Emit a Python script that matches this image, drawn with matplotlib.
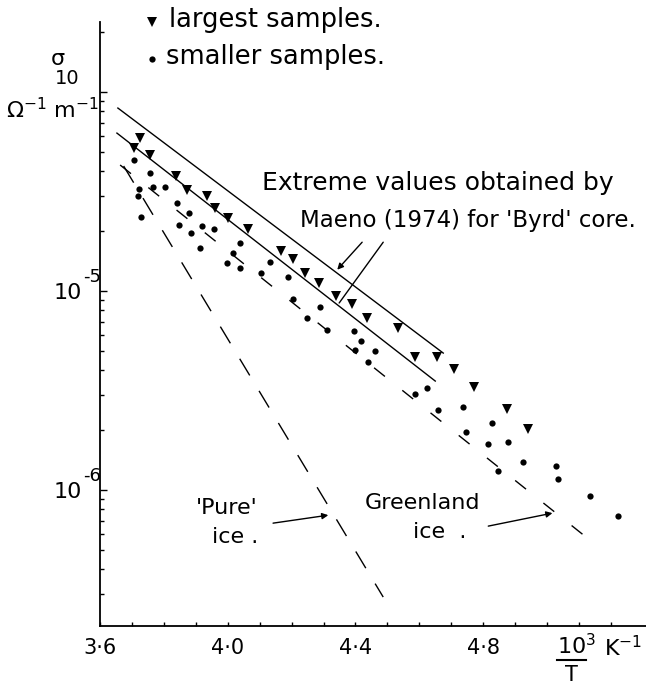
import numpy as np
import matplotlib
matplotlib.use("Agg")
import matplotlib.pyplot as plt
import matplotlib.transforms as mtransforms
from matplotlib.ticker import FixedLocator, LogLocator, NullFormatter
from matplotlib.lines import Line2D

plt.rcParams['font.family'] = ['DejaVu Sans']
plt.rcParams['mathtext.default'] = 'regular'

# largest samples (triangles)
tri_x = [3.725, 3.707, 3.757, 3.838, 3.873, 3.935, 3.960, 4.001, 4.064, 4.167, 4.205, 4.243,
         4.287, 4.340, 4.390, 4.437, 4.534, 4.587, 4.656, 4.710, 4.772, 4.876, 4.939]
tri_y = [5.87e-5, 5.24e-5, 4.82e-5, 3.78e-5, 3.22e-5, 3.00e-5, 2.61e-5, 2.33e-5, 2.05e-5,
         1.59e-5, 1.45e-5, 1.23e-5, 1.10e-5, 9.44e-6, 8.61e-6, 7.31e-6, 6.52e-6, 4.66e-6,
         4.66e-6, 4.06e-6, 3.30e-6, 2.55e-6, 2.03e-6]

# smaller samples (dots)
dot_x = [3.707, 3.757, 3.722, 3.766, 3.804, 3.719, 3.729, 3.841, 3.879, 3.848, 3.920, 3.957,
         3.885, 4.039, 3.913, 4.017, 3.998, 4.039, 4.133, 4.105, 4.189, 4.205, 4.290, 4.249,
         4.312, 4.396, 4.418, 4.399, 4.462, 4.440, 4.587, 4.625, 4.660, 4.738, 4.829, 4.747,
         4.816, 4.879, 4.926, 4.848, 5.029, 5.033, 5.136, 5.221]
dot_y = [4.55e-5, 3.92e-5, 3.26e-5, 3.33e-5, 3.33e-5, 3.00e-5, 2.36e-5, 2.77e-5, 2.47e-5,
         2.15e-5, 2.12e-5, 2.05e-5, 1.96e-5, 1.74e-5, 1.64e-5, 1.55e-5, 1.38e-5, 1.31e-5,
         1.40e-5, 1.23e-5, 1.17e-5, 9.12e-6, 8.32e-6, 7.31e-6, 6.37e-6, 6.30e-6, 5.61e-6,
         5.06e-6, 4.99e-6, 4.40e-6, 3.03e-6, 3.26e-6, 2.52e-6, 2.61e-6, 2.17e-6, 1.95e-6,
         1.70e-6, 1.74e-6, 1.38e-6, 1.25e-6, 1.32e-6, 1.14e-6, 9.33e-7, 7.40e-7]

# Maeno (1974) extreme values for Byrd core
maeno_hi_x = [3.656, 4.675]
maeno_hi_y = [8.31e-5, 4.88e-6]
maeno_lo_x = [3.653, 4.650]
maeno_lo_y = [6.22e-5, 3.53e-6]

# Greenland ice and pure ice
green_x = [3.663, 5.122]
green_y = [4.30e-5, 5.81e-7]
pure_x = [3.674, 4.487]
pure_y = [4.25e-5, 2.90e-7]

xticks = [3.6, 4.0, 4.4, 4.8]
xticklabels = ['3·6', '4·0', '4·4', '4·8']
yticks = [1e-4, 1e-5, 1e-6]
yticklabels = ['', '10', '10']
yexponents = ['', '-5', '-6']

W, H = 646, 683
fig = plt.figure(figsize=(W / 100, H / 100), dpi=100)
ax = fig.add_axes([100 / W, (H - 626) / H, 1 - 100 / W, (626 - 22) / H])

def fpos(x, y):
    return x / W, 1 - y / H

ax.plot(maeno_hi_x, maeno_hi_y, color='black', lw=1.0)
ax.plot(maeno_lo_x, maeno_lo_y, color='black', lw=1.0)
ax.plot(green_x, green_y, color='black', lw=1.0, dashes=(10, 16))
ax.plot(pure_x, pure_y, color='black', lw=1.0, dashes=(14, 13))

ax.plot(tri_x, tri_y, 'v', color='black', ms=7.5, mew=0)
ax.plot(dot_x, dot_y, 'o', color='black', ms=4.5, mew=0)

ax.set_yscale('log')
ax.set_xlim(3.6, 5.31)
ax.set_ylim(10 ** -6.683, 10 ** -3.648)

ax.spines['top'].set_visible(False)
ax.spines['right'].set_visible(False)
ax.spines['left'].set_linewidth(1.3)
ax.spines['bottom'].set_linewidth(1.3)

ax.set_xticks(xticks)
ax.set_xticklabels(xticklabels, fontsize=15)
ax.xaxis.set_minor_locator(FixedLocator(np.arange(3.7, 5.25, 0.1)))
ax.tick_params(axis='x', which='both', direction='in', length=3, width=1, pad=9)

ax.set_yticks(yticks)
ax.set_yticklabels(yticklabels, fontsize=16)
ax.yaxis.set_minor_locator(LogLocator(base=10, subs=np.arange(2, 10)))
ax.yaxis.set_minor_formatter(NullFormatter())
ax.tick_params(axis='y', which='major', direction='in', length=5, width=1, pad=13)
ax.tick_params(axis='y', which='minor', direction='in', length=3, width=1)

# exponents of the y tick labels
ytrans = mtransforms.blended_transform_factory(ax.transAxes, ax.transData)
for yv, ex in zip(yticks, yexponents):
    if ex:
        ax.annotate(ex, xy=(0, yv), xycoords=ytrans, xytext=(-12, 10),
                    textcoords='offset points', fontsize=13, ha='left', va='center',
                    annotation_clip=False)

# y axis label
fig.text(*fpos(58, 59), 'σ', fontsize=16, ha='center', va='center')
fig.text(*fpos(67, 78), '10', fontsize=14, ha='center', va='center')
fig.text(*fpos(53, 110), '$Ω^{-1}\\ m^{-1}$', fontsize=16, ha='center', va='center')

# x axis label
fig.text(*fpos(557, 646), '$10^{3}$', fontsize=16, ha='left', va='center')
fig.add_artist(Line2D([557 / W, 586 / W], [1 - 660 / H, 1 - 660 / H], color='black', lw=1.5))
fig.text(*fpos(571, 675), 'T', fontsize=15, ha='center', va='center')
fig.text(*fpos(604, 648), '$K^{-1}$', fontsize=16, ha='left', va='center')

# legend
ax.plot([fpos(152, 22)[0]], [fpos(152, 22)[1]], 'v', color='black', ms=7.5, mew=0,
        transform=fig.transFigure, clip_on=False)
fig.text(*fpos(169, 20), 'largest samples.', fontsize=18.5, ha='left', va='center')
ax.plot([fpos(152, 59)[0]], [fpos(152, 59)[1]], 'o', color='black', ms=4.5, mew=0,
        transform=fig.transFigure, clip_on=False)
fig.text(*fpos(166, 57), 'smaller samples.', fontsize=18.5, ha='left', va='center')

# annotations
fig.text(*fpos(262, 183), 'Extreme values obtained by', fontsize=18, ha='left', va='center')
fig.text(*fpos(300, 220), "Maeno (1974) for 'Byrd' core.", fontsize=16.5, ha='left', va='center')
fig.text(*fpos(227, 508), "'Pure'", fontsize=16, ha='center', va='center')
fig.text(*fpos(235, 537), 'ice .', fontsize=16, ha='center', va='center')
fig.text(*fpos(423, 503), 'Greenland', fontsize=16, ha='center', va='center')
fig.text(*fpos(440, 532), 'ice  .', fontsize=16, ha='center', va='center')

arrow = dict(arrowstyle='-|>', color='black', lw=1.0, mutation_scale=9, shrinkA=0, shrinkB=0)
ax.annotate('', xy=(4.343, 1.28e-5), xytext=(4.421, 1.76e-5), arrowprops=arrow)
ax.annotate('', xy=(4.349, 8.71e-6), xytext=(4.487, 1.76e-5),
            arrowprops=dict(arrowstyle='-', color='black', lw=1.0, shrinkA=0, shrinkB=0))
ax.annotate('', xy=(4.315, 7.48e-7), xytext=(4.142, 6.82e-7), arrowprops=arrow)
ax.annotate('', xy=(5.017, 7.66e-7), xytext=(4.816, 6.59e-7), arrowprops=arrow)

fig.savefig('out.png', dpi=100, facecolor='white')
